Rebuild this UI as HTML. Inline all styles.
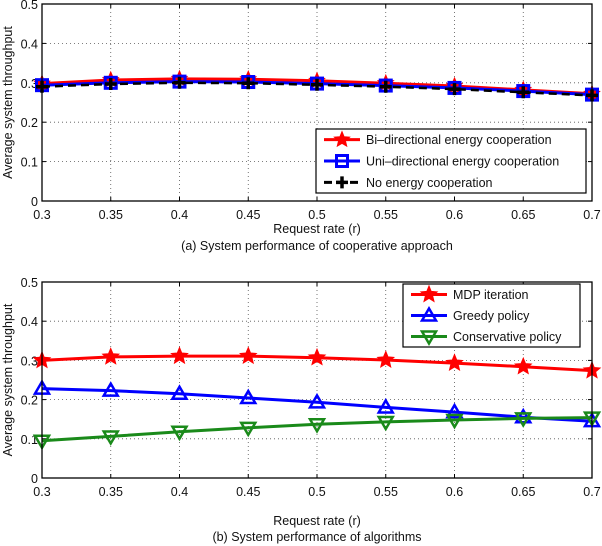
<!DOCTYPE html>
<html><head><meta charset="utf-8">
<style>
html,body{margin:0;padding:0;background:#fff;}
svg{display:block;font-family:"Liberation Sans",sans-serif;}
</style></head>
<body>
<svg id="chart" width="602" height="546" viewBox="0 0 602 546" xmlns="http://www.w3.org/2000/svg"></svg>
<script>
const xCategories=[0.3,0.35,0.4,0.45,0.5,0.55,0.6,0.65,0.7];
const xTickLabels=["0.3","0.35","0.4","0.45","0.5","0.55","0.6","0.65","0.7"];
const yTicks=[0,0.1,0.2,0.3,0.4,0.5];
const yTickLabels=["0","0.1","0.2","0.3","0.4","0.5"];
const biValues=[0.298,0.307,0.310,0.309,0.305,0.299,0.292,0.282,0.272];
const uniValues=[0.294,0.300,0.303,0.302,0.298,0.293,0.287,0.279,0.270];
const noneValues=[0.290,0.297,0.300,0.299,0.295,0.290,0.284,0.276,0.268];
const mdpValues=[0.300,0.309,0.311,0.311,0.307,0.301,0.293,0.284,0.274];
const greedyValues=[0.228,0.223,0.215,0.204,0.193,0.180,0.168,0.155,0.145];
const conservValues=[0.095,0.106,0.118,0.128,0.137,0.143,0.148,0.152,0.154];

const NS="http://www.w3.org/2000/svg";
const svg=document.getElementById('chart');
function mk(tag,attrs,parent,text){const e=document.createElementNS(NS,tag);for(const k in attrs)e.setAttribute(k,attrs[k]);if(text!==undefined)e.textContent=text;(parent||svg).appendChild(e);return e;}

function star(g,cx,cy,r,color){let p=[];for(let i=0;i<10;i++){const a=-Math.PI/2+i*Math.PI/5;const rr=i%2?r*0.45:r;p.push((cx+rr*Math.cos(a)).toFixed(1)+','+(cy+rr*Math.sin(a)).toFixed(1));}
 const e=mk('polygon',{points:p.join(' '),fill:color,stroke:color,'stroke-width':1},g);
 
 }
function square(g,cx,cy,color){const e=mk('rect',{x:cx-5.5,y:cy-5.5,width:11,height:11,fill:'none',stroke:color,'stroke-width':3},g);
 
 }
function plus(g,cx,cy,color){const e=mk('path',{d:`M${cx-6},${cy}H${cx+6}M${cx},${cy-6}V${cy+6}`,stroke:color,'stroke-width':3.5,fill:'none'},g);
 
 }
function tri(g,cx,cy,color,down){const s=down?-1:1;const e=mk('polygon',{points:`${cx},${cy-7*s} ${cx-7},${cy+5*s} ${cx+7},${cy+5*s}`,fill:'none',stroke:color,'stroke-width':2.5},g);
 
 }

function panel(L,R,T,B,name,series,legend,xlabelY,capY,caption){
 const g=mk('g',{});
 
 
 const xs=v=>L+(v-0.3)/(0.4)*(R-L);
 const ys=v=>B-(v/0.5)*(B-T);
 xCategories.forEach((c,i)=>{const x=xs(c);
  if(i>0&&i<xCategories.length-1){mk('line',{x1:x,x2:x,y1:T,y2:B,stroke:'#555','stroke-width':0.8,'stroke-dasharray':'1,3'},g);}
  mk('line',{x1:x,x2:x,y1:B,y2:B-4,stroke:'#000'},g);mk('line',{x1:x,x2:x,y1:T,y2:T+4,stroke:'#000'},g);
  const t=mk('text',{x:x,y:B+18,'font-size':12.5,'text-anchor':'middle',fill:'#111'},g,xTickLabels[i]);
  
  });
 yTicks.forEach((v,i)=>{const y=ys(v);
  if(i>0&&i<yTicks.length-1){mk('line',{x1:L,x2:R,y1:y,y2:y,stroke:'#555','stroke-width':0.8,'stroke-dasharray':'1,3'},g);}
  mk('line',{x1:L,x2:L+4,y1:y,y2:y,stroke:'#000'},g);mk('line',{x1:R,x2:R-4,y1:y,y2:y,stroke:'#000'},g);
  const t=mk('text',{x:L-4,y:y+5,'font-size':12.5,'text-anchor':'end',fill:'#111'},g,yTickLabels[i]);
  
  });
 const yt=mk('text',{x:0,y:0,'font-size':12.5,'text-anchor':'middle',transform:`translate(12,${(T+B)/2}) rotate(-90)`,fill:'#111'},g,'Average system throughput');
 
 
 series.forEach(s=>{
  const sg=mk('g',{},g);
  
  
  const pts=s.vals.map((v,i)=>xs(xCategories[i]).toFixed(1)+','+ys(v).toFixed(1)).join(' ');
  const pl=mk('polyline',{points:pts,fill:'none',stroke:s.color,'stroke-width':s.w||3,'stroke-dasharray':s.dash||'none'},sg);
  
  
  s.vals.forEach((v,i)=>s.mark(sg,xs(xCategories[i]),ys(v)));
 });
 mk('rect',{x:L,y:T,width:R-L,height:B-T,fill:'none',stroke:'#000','stroke-width':1.3},g);
 // legend
 const lg=mk('g',{},g);
 
 
 mk('rect',{x:legend.x,y:legend.y,width:legend.w,height:legend.h,fill:'#fff',stroke:'#000','stroke-width':1.2},lg);
 legend.items.forEach((it,i)=>{const cy=legend.y+legend.h/(legend.items.length)*(i+0.5);
  const eg=mk('g',{},lg);
  
  
  mk('line',{x1:legend.x+8,x2:legend.x+44,y1:cy,y2:cy,stroke:it.color,'stroke-width':3,'stroke-dasharray':it.dash||'none'},eg);
  it.mark(eg,legend.x+26,cy);
  mk('text',{x:legend.x+50,y:cy+4.5,'font-size':12.5,fill:'#111'},eg,it.label);});
 const xl=mk('text',{x:(L+R)/2,y:xlabelY,'font-size':12.5,'text-anchor':'middle',fill:'#111'},g,'Request rate (r)');
 
 
 const cp=mk('text',{x:(L+R)/2,y:capY,'font-size':12.5,'text-anchor':'middle',fill:'#111'},g,caption);
 
 
}
const RED='#ff0000',BLUE='#0000ff',BLK='#000',GRN='#1a8a1a';
panel(42,592,4,201,'panel-a',[
 {name:'series-bi',vals:biValues,color:RED,mark:(g,x,y)=>star(g,x,y,8,RED)},
 {name:'series-uni',vals:uniValues,color:BLUE,mark:(g,x,y)=>square(g,x,y,BLUE)},
 {name:'series-none',vals:noneValues,color:BLK,dash:'8,5',w:2.5,mark:(g,x,y)=>plus(g,x,y,BLK)}
],{x:316,y:129,w:270,h:64,items:[
 {label:'Bi\u2013directional energy cooperation',color:RED,mark:(g,x,y)=>star(g,x,y,8,RED)},
 {label:'Uni\u2013directional energy cooperation',color:BLUE,mark:(g,x,y)=>square(g,x,y,BLUE)},
 {label:'No energy cooperation',color:BLK,dash:'8,5',mark:(g,x,y)=>plus(g,x,y,BLK)}]},
 233,250,'(a) System performance of cooperative approach');
panel(42,592,282,478,'panel-b',[
 {name:'series-mdp',vals:mdpValues,color:RED,mark:(g,x,y)=>star(g,x,y,8.5,RED)},
 {name:'series-greedy',vals:greedyValues,color:BLUE,mark:(g,x,y)=>tri(g,x,y,BLUE,false)},
 {name:'series-conservative',vals:conservValues,color:GRN,mark:(g,x,y)=>tri(g,x,y,GRN,true)}
],{x:403,y:284,w:177,h:63,items:[
 {label:'MDP iteration',color:RED,mark:(g,x,y)=>star(g,x,y,8.5,RED)},
 {label:'Greedy policy',color:BLUE,mark:(g,x,y)=>tri(g,x,y,BLUE,false)},
 {label:'Conservative policy',color:GRN,mark:(g,x,y)=>tri(g,x,y,GRN,true)}]},
 525,541,'(b) System performance of algorithms');
</script>
</body></html>
